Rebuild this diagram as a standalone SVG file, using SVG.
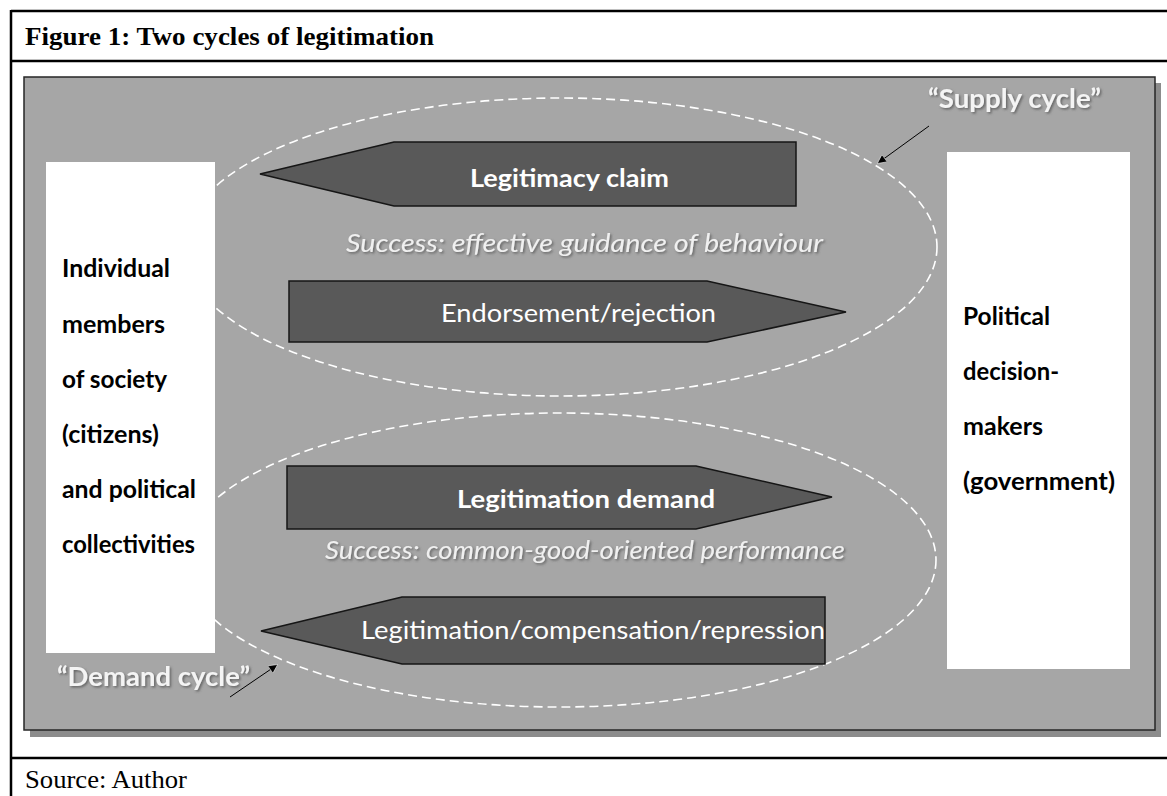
<svg xmlns="http://www.w3.org/2000/svg" width="1167" height="796" viewBox="0 0 1167 796">
<style>
.frame{stroke:#000;stroke-width:2.5;fill:none}
.caption{font-family:"Liberation Serif","Times New Roman",serif;font-size:26px;fill:#000}
.cyc{fill:none;stroke:#ffffff;stroke-width:1.6;stroke-dasharray:9 5}
.blk{fill:#595959;stroke:#161616;stroke-width:1.5}
.wt{fill:#ffffff;font-family:Lato,"Open Sans",sans-serif;font-size:25px}
.b{font-weight:bold}
.it{font-style:italic;fill:#f0f0f0;font-size:26px}
.box{fill:#ffffff}
.bt{font-family:Lato,"Open Sans",sans-serif;font-size:25px;font-weight:bold;fill:#000}
.ptr{stroke:#000;stroke-width:1;fill:none}
.lbl{fill:#f4f4f4;font-family:Lato,"Open Sans",sans-serif;font-size:27px;font-weight:bold}
</style>
<defs>
<filter id="sh" x="-5%" y="-30%" width="110%" height="160%">
<feDropShadow dx="1.5" dy="1.5" stdDeviation="1" flood-color="#555" flood-opacity="0.8"/>
</filter>
<marker id="ah" viewBox="0 0 10 10" refX="9" refY="5" markerWidth="9" markerHeight="9" orient="auto" markerUnits="userSpaceOnUse">
<path d="M0,0 L10,5 L0,10 z" fill="#000" stroke="#fff" stroke-width="0.6"/>
</marker>
</defs>
<rect width="1167" height="796" fill="#fff"/>
<g id="frame">
<line class="frame" x1="11" y1="11" x2="1167" y2="11"/>
<line class="frame" x1="11" y1="10" x2="11" y2="796"/>
<line class="frame" x1="11" y1="61" x2="1167" y2="61"/>
<line class="frame" x1="11" y1="758" x2="1167" y2="758"/>
<text class="caption" font-weight="bold" x="25" y="45" textLength="409" lengthAdjust="spacingAndGlyphs">Figure 1: Two cycles of legitimation</text>
<text class="caption" x="25" y="788" textLength="162" lengthAdjust="spacingAndGlyphs">Source: Author</text>
</g>
<g id="panel">
<rect x="30" y="83" width="1131" height="654" fill="#8c8c8c"/>
<rect x="24" y="77" width="1131" height="653" fill="#a6a6a6" stroke="#262626" stroke-width="1.5"/>
</g>
<g id="cycles">
<ellipse class="cyc" cx="560" cy="247" rx="377" ry="149"/>
<ellipse class="cyc" cx="559" cy="560" rx="377" ry="147"/>
</g>
<g id="citizens">
<rect class="box" x="46" y="162" width="169" height="491"/>
<text class="bt" x="62" y="277" textLength="108" lengthAdjust="spacingAndGlyphs">Individual</text>
<text class="bt" x="62" y="333" textLength="103" lengthAdjust="spacingAndGlyphs">members</text>
<text class="bt" x="62" y="388" textLength="105" lengthAdjust="spacingAndGlyphs">of society</text>
<text class="bt" x="62" y="443" textLength="97" lengthAdjust="spacingAndGlyphs">(citizens)</text>
<text class="bt" x="62" y="498" textLength="134" lengthAdjust="spacingAndGlyphs">and political</text>
<text class="bt" x="62" y="553" textLength="133" lengthAdjust="spacingAndGlyphs">collectivities</text>
</g>
<g id="government">
<rect class="box" x="947" y="152" width="183" height="517"/>
<text class="bt" x="963" y="325" textLength="87" lengthAdjust="spacingAndGlyphs">Political</text>
<text class="bt" x="963" y="380" textLength="96" lengthAdjust="spacingAndGlyphs">decision-</text>
<text class="bt" x="963" y="435" textLength="80" lengthAdjust="spacingAndGlyphs">makers</text>
<text class="bt" x="963" y="490" textLength="152" lengthAdjust="spacingAndGlyphs">(government)</text>
</g>
<g id="legitimacy-claim">
<polygon class="blk" points="260,174 394,142 796,142 796,206 394,206"/>
<text class="wt b" x="470" y="187" textLength="199" lengthAdjust="spacingAndGlyphs">Legitimacy claim</text>
</g>
<text class="wt it" x="346" y="252" textLength="477" lengthAdjust="spacingAndGlyphs" filter="url(#sh)">Success: effective guidance of behaviour</text>
<g id="endorsement">
<polygon class="blk" points="289,281 707,281 846,312 707,342 289,342"/>
<text class="wt" x="441" y="322" textLength="275" lengthAdjust="spacingAndGlyphs">Endorsement/rejection</text>
</g>
<g id="legitimation-demand">
<polygon class="blk" points="287,466 696,466 832,497 696,529 287,529"/>
<text class="wt b" x="457" y="508" textLength="258" lengthAdjust="spacingAndGlyphs">Legitimation demand</text>
</g>
<text class="wt it" x="325" y="559" textLength="520" lengthAdjust="spacingAndGlyphs" filter="url(#sh)">Success: common-good-oriented performance</text>
<g id="legitimation-response">
<polygon class="blk" points="261,631 402,597 825,597 825,664 402,664"/>
<text class="wt" x="361" y="639" textLength="464" lengthAdjust="spacingAndGlyphs">Legitimation/compensation/repression</text>
</g>
<g id="supply-label">
<text class="lbl" x="928" y="108" textLength="173" lengthAdjust="spacingAndGlyphs" filter="url(#sh)">“Supply cycle”</text>
</g>
<g id="demand-label">
<text class="lbl" x="57" y="686" textLength="193" lengthAdjust="spacingAndGlyphs" filter="url(#sh)">“Demand cycle”</text>
</g>
<g id="connectors">
<line class="ptr" x1="929" y1="126" x2="878" y2="163" marker-end="url(#ah)"/>
<line class="ptr" x1="230" y1="697" x2="277" y2="665" marker-end="url(#ah)"/>
</g>
</svg>
